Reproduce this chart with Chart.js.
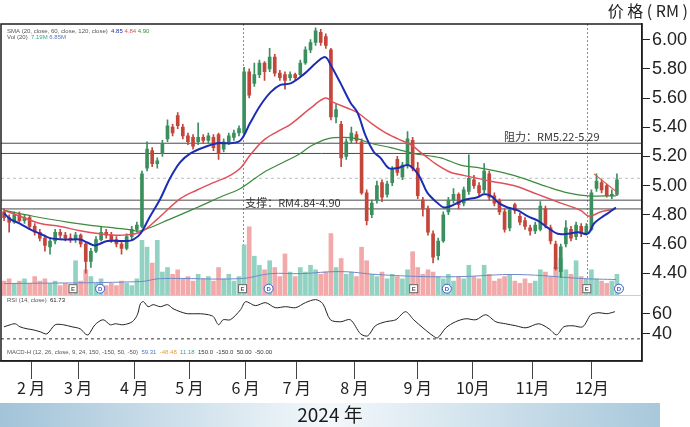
<!DOCTYPE html>
<html>
<head>
<meta charset="utf-8">
<script src="https://cdn.jsdelivr.net/npm/chart.js@4.4.1/dist/chart.umd.min.js"></script>
<style>
  html, body { margin: 0; padding: 0; background: #fff; }
</style>
</head>
<body>
<canvas id="priceChart" width="690" height="427"></canvas>
<script>
// daily-ish candles, Jan - Dec 2024
const opens = [4.82,4.78,4.75,4.80,4.76,4.78,4.72,4.68,4.64,4.58,4.62,4.68,4.66,4.64,4.63,4.66,4.60,4.48,4.55,4.63,
  4.68,4.66,4.63,4.60,4.57,4.65,4.70,4.72,5.12,5.24,5.15,5.22,5.32,5.40,5.48,5.40,5.34,5.33,5.30,5.33,
  5.31,5.33,5.35,5.25,5.30,5.33,5.36,5.36,5.78,5.70,5.76,5.84,5.80,5.88,5.77,5.76,5.74,5.76,5.76,5.84,
  5.93,5.98,6.05,6.02,5.93,5.47,5.42,5.20,5.31,5.35,5.30,4.95,4.80,4.90,5.02,4.94,5.02,5.18,5.06,5.14,
  5.31,5.12,4.90,4.84,4.67,4.52,4.62,4.82,4.90,4.94,4.88,4.96,5.04,5.00,4.97,5.08,4.93,4.90,4.82,4.71,
  4.87,4.79,4.76,4.71,4.69,4.70,4.84,4.71,4.60,4.41,4.60,4.70,4.65,4.72,4.67,4.70,4.98,5.02,5.00,4.93,4.94];
const highs = [4.84,4.80,4.82,4.82,4.80,4.79,4.74,4.70,4.66,4.64,4.70,4.70,4.68,4.67,4.68,4.67,4.61,4.57,4.65,4.72,
  4.70,4.68,4.65,4.62,4.67,4.72,4.75,5.10,5.30,5.26,5.19,5.31,5.45,5.42,5.50,5.42,5.36,5.35,5.43,5.35,
  5.36,5.35,5.36,5.32,5.36,5.38,5.41,5.81,5.80,5.84,5.86,5.85,5.94,5.90,5.79,5.78,5.78,5.77,5.86,5.95,
  6.00,6.08,6.07,6.04,5.94,5.56,5.44,5.32,5.40,5.37,5.32,4.97,4.90,5.03,5.04,5.03,5.13,5.20,5.16,5.37,
  5.33,5.16,4.92,4.86,4.69,4.64,4.82,4.92,4.98,4.95,4.99,5.21,5.07,5.02,5.15,5.10,4.95,4.91,4.84,4.85,
  4.88,4.81,4.78,4.73,4.75,4.89,4.86,4.73,4.62,4.60,4.76,4.72,4.75,4.74,4.74,4.97,5.08,5.04,5.01,4.97,5.08];
const lows = [4.76,4.68,4.74,4.75,4.74,4.70,4.66,4.62,4.55,4.53,4.60,4.64,4.62,4.61,4.61,4.58,4.40,4.44,4.54,4.62,
  4.64,4.61,4.58,4.53,4.56,4.63,4.68,4.71,5.10,5.13,5.12,5.20,5.30,5.34,5.39,5.32,5.28,5.25,5.28,5.29,
  5.29,5.24,5.18,5.23,5.28,5.31,5.34,5.34,5.60,5.68,5.74,5.72,5.78,5.75,5.72,5.66,5.72,5.72,5.75,5.83,
  5.91,5.96,5.96,5.94,5.45,5.43,5.13,5.18,5.29,5.29,4.94,4.73,4.78,4.88,4.89,4.92,5.00,5.07,5.04,5.12,
  5.10,4.91,4.79,4.66,4.47,4.49,4.61,4.80,4.88,4.84,4.86,4.94,4.98,4.93,4.95,4.90,4.86,4.80,4.68,4.69,
  4.81,4.73,4.70,4.66,4.67,4.69,4.71,4.60,4.42,4.37,4.58,4.62,4.63,4.65,4.66,4.69,4.96,4.95,4.92,4.91,4.93];
const closes = [4.78,4.75,4.80,4.76,4.78,4.72,4.68,4.64,4.59,4.62,4.68,4.66,4.64,4.63,4.66,4.60,4.48,4.55,4.63,4.68,
  4.66,4.63,4.60,4.57,4.65,4.70,4.73,5.08,5.25,5.15,5.17,5.29,5.41,5.36,5.41,5.34,5.30,5.27,5.33,5.31,
  5.34,5.26,5.22,5.30,5.34,5.36,5.39,5.78,5.62,5.76,5.84,5.78,5.88,5.77,5.74,5.72,5.76,5.74,5.84,5.93,
  5.98,6.06,5.98,5.96,5.47,5.52,5.19,5.30,5.36,5.31,4.95,4.76,4.88,5.00,4.92,5.01,5.11,5.09,5.14,5.32,
  5.12,4.93,4.84,4.68,4.51,4.62,4.80,4.90,4.94,4.87,4.97,5.05,5.00,4.95,5.10,4.92,4.88,4.82,4.70,4.83,
  4.83,4.75,4.72,4.69,4.73,4.86,4.73,4.62,4.43,4.58,4.71,4.64,4.73,4.67,4.72,4.95,5.03,4.97,4.93,4.94,5.04];
// volume, million shares
const vols = [6,7,5,6,7,5,8,6,7,5,6,4,5,4,15,6,11,8,5,7,
  4,5,4,6,5,4,7,24,21,14,24,10,12,9,11,7,8,6,9,7,
  8,6,12,7,9,6,8,22,30,17,13,11,15,12,8,18,10,8,12,10,
  13,11,9,10,27,12,16,9,10,8,21,15,9,8,10,7,9,8,7,11,
  19,12,9,11,10,8,7,9,6,8,7,13,8,7,13,9,6,7,8,9,
  6,5,7,5,6,11,10,8,12,16,11,9,15,8,7,11,7,6,5,6,9];

// moving averages: [candle index, price]
const sma20 = [[0,4.81],[1.2,4.77],[3.1,4.74],[5.1,4.70],[7.1,4.67],[9,4.64],[12.4,4.63],[14.9,4.63],[16.3,4.61],
  [17.8,4.59],[20.2,4.62],[24.1,4.62],[25.3,4.63],[26.7,4.67],[28.6,4.79],[30.6,4.91],[32.5,5.05],[34.5,5.16],
  [36.5,5.22],[39,5.26],[41.8,5.29],[44.3,5.29],[46.3,5.31],[48.2,5.43],[50.2,5.55],[52.2,5.64],[54.1,5.69],
  [56.1,5.70],[58.6,5.76],[61.4,5.85],[62.9,5.88],[63.9,5.83],[65.9,5.70],[67.8,5.57],[69.2,5.50],[70.8,5.34],
  [72.4,5.23],[73.7,5.19],[75.3,5.12],[77.1,5.12],[79.2,5.14],[81.2,5.07],[82.9,4.95],[84.9,4.88],[86.1,4.85],
  [87.5,4.86],[90,4.90],[92.7,4.92],[93.9,4.94],[95.3,4.93],[96.9,4.88],[98.6,4.85],[100.6,4.83],[102.5,4.79],
  [104.5,4.76],[106.5,4.71],[108.4,4.67],[110.4,4.67],[112.4,4.68],[114.3,4.67],[115.5,4.74],[116.9,4.78],
  [118.2,4.81],[119.8,4.85]];
const sma60 = [[0,4.83],[3.1,4.79],[7.1,4.74],[11,4.72],[14.9,4.69],[18.8,4.67],[22.7,4.66],[26.7,4.68],[30,4.77],
  [34.5,4.91],[37.8,4.97],[41,5.02],[44.3,5.07],[46.3,5.12],[48.2,5.21],[50.8,5.31],[53.5,5.37],[56.1,5.42],
  [60,5.53],[62.9,5.60],[64.5,5.57],[67.3,5.53],[69.2,5.50],[71.8,5.43],[74.3,5.37],[77.1,5.32],[79.6,5.28],
  [82.2,5.21],[84.9,5.14],[87.5,5.09],[90,5.07],[95.3,5.03],[99.8,5.00],[104.5,4.94],[109,4.88],[112.9,4.83],
  [114.5,4.79],[116.9,4.82],[119.8,4.84]];
const sma120 = [[0,4.83],[5.7,4.79],[12.4,4.75],[18.8,4.72],[24.1,4.70],[26.7,4.69],[32.5,4.77],[37.8,4.85],
  [42.9,4.93],[46.3,4.98],[50.8,5.09],[54.7,5.16],[58,5.22],[60,5.27],[63.3,5.32],[66.5,5.33],[69.2,5.32],
  [71.8,5.29],[75.7,5.26],[80.2,5.22],[85.5,5.19],[89.4,5.14],[93.3,5.12],[99.8,5.07],[106.5,4.99],[110.4,4.95],
  [114.3,4.93],[119.8,4.93]];
const volMA = [[0,4.9],[26.7,5.8],[30.6,7.1],[46.3,7.1],[52.2,9.3],[58,9.3],[65.9,10.2],[73.1,8.9],[82.2,8.0],
  [89.4,8.0],[100.6,8.9],[113.5,7.1],[119.8,6.7]];
const rsi14 = [[0,47],[1.2,49],[2.2,50],[3.1,47],[4.5,45],[5.7,44],[7.1,42],[8.4,40],[10,49],[11.6,49],[13.3,47],
  [14.9,45],[15.9,40],[16.5,39],[17.8,49],[19.4,54],[20.8,49],[21.8,50],[23.3,49],[25.1,52],[26.1,59],[26.7,70],
  [27.3,72],[28.2,67],[29.2,69],[30.6,67],[32,69],[33.1,65],[34.5,62],[35.9,60],[38.4,60],[40,59],[41,57],
  [42,49],[42.9,54],[44.3,54],[46.3,64],[47.3,72],[49.2,68],[51.2,71],[53.1,66],[55.1,67],[57.1,66],[59,71],
  [61,74],[62.4,70],[63.9,54],[65.9,52],[67.8,54],[69.8,40],[71.2,38],[72.7,48],[74.7,52],[76.7,54],[78.6,62],
  [80.2,54],[82,46],[84,38],[84.9,36],[86.5,46],[88.4,52],[90.4,55],[92.4,54],[94.3,59],[96.3,52],[98.2,50],
  [100.2,48],[102.2,46],[104.7,50],[106.7,45],[108.2,39],[109.6,47],[111.4,48],[113.3,47],[114.9,59],
  [116.5,61],[118,60],[119.6,62]];

const resistance = [5.22, 5.29];
const support = [4.84, 4.90];
const pennant = [[115.5, 5.08], [120.2, 4.95]];
const lastPrice = 5.05;
const rsiFloor = 35;
const earnIdx = [13.5, 46.7, 80.2, 114.1];
const divIdx = [18.8, 51.8, 86.7, 120.4];
const vLines = [46.7, 114.1];

const priceTicks = [4.4, 4.6, 4.8, 5.0, 5.2, 5.4, 5.6, 5.8, 6.0];
const rsiTicks = [40, 60];
const monthPos = [5.3, 14.5, 25.5, 36.3, 47.3, 57.3, 68.6, 81, 91.8, 103.5, 115.1];
const monthLabels = ['2 月', '3 月', '4 月', '5 月', '6 月', '7 月', '8 月', '9 月', '10月', '11月', '12月'];

const X_MIN = -0.6, X_MAX = 124.9;
const idx = opens.map((_, i) => i);
const upCol = '#3b8f5e', dnCol = '#c4453a';
const candleCol = idx.map(i => closes[i] >= opens[i] ? upCol : dnCol);
const volCol = idx.map(i => closes[i] >= opens[i] ? '#92d2c2' : '#f2a9a9');
const pts = arr => arr.map(([x, y]) => ({ x, y }));
const flat = v => [{ x: X_MIN, y: v }, { x: X_MAX, y: v }];
const NUM_FONT = '"Liberation Sans", Arial, sans-serif';
const CJK_FONT = '"Noto Sans CJK SC", "Liberation Sans", sans-serif';

function levelSet(v, color, dash) {
  return { type: 'line', data: flat(v), borderColor: color, borderWidth: 1, borderDash: dash || [],
    pointRadius: 0, yAxisID: 'y', order: 5 };
}

function drawParts(ctx, x, y, parts) {
  parts.forEach(([t, c]) => {
    ctx.fillStyle = c;
    ctx.fillText(t, x, y);
    x += ctx.measureText(t).width;
  });
}

const overlay = {
  id: 'overlay',
  beforeDatasetsDraw(chart) {
    const { ctx, chartArea: a, scales: { x, y } } = chart;
    ctx.save();
    ctx.strokeStyle = '#cccccc';
    ctx.lineWidth = 1;
    ctx.beginPath();
    ctx.moveTo(a.left, Math.round(y.bottom) + 0.5);
    ctx.lineTo(a.right, Math.round(y.bottom) + 0.5);
    ctx.stroke();
    ctx.strokeStyle = '#8c8c8c';
    ctx.setLineDash([2, 2]);
    vLines.forEach(v => {
      const px = Math.round(x.getPixelForValue(v)) + 0.5;
      ctx.beginPath();
      ctx.moveTo(px, a.top);
      ctx.lineTo(px, y.bottom);
      ctx.stroke();
    });
    ctx.restore();
  },
  afterDraw(chart) {
    const { ctx, chartArea: a, scales: { x, y, vol, macd } } = chart;
    ctx.save();

    // E / D event markers
    const my = vol.getPixelForValue(0) - 6;
    ctx.lineWidth = 1;
    ctx.font = 'bold 6px ' + NUM_FONT;
    ctx.textAlign = 'center';
    ctx.textBaseline = 'middle';
    earnIdx.forEach(v => {
      const px = x.getPixelForValue(v);
      ctx.fillStyle = '#fff';
      ctx.fillRect(px - 4, my - 4, 8, 8);
      ctx.strokeStyle = '#666';
      ctx.strokeRect(px - 4, my - 4, 8, 8);
      ctx.fillStyle = '#555';
      ctx.fillText('E', px, my + 0.5);
    });
    divIdx.forEach(v => {
      const px = x.getPixelForValue(v);
      ctx.beginPath();
      ctx.arc(px, my, 4.5, 0, Math.PI * 2);
      ctx.fillStyle = '#fff';
      ctx.fill();
      ctx.strokeStyle = '#3a5fcd';
      ctx.stroke();
      ctx.fillStyle = '#3a5fcd';
      ctx.fillText('D', px, my + 0.5);
    });

    // level captions
    ctx.font = '11px ' + CJK_FONT;
    ctx.fillStyle = '#333';
    ctx.textBaseline = 'alphabetic';
    ctx.textAlign = 'right';
    ctx.fillText('阻力：RM5.22-5.29', x.getPixelForValue(116.6), y.getPixelForValue(resistance[1]) - 2);
    ctx.textAlign = 'left';
    ctx.fillText('支撑：RM4.84-4.90', x.getPixelForValue(47.2), y.getPixelForValue(support[0]) - 2);

    // indicator headers
    ctx.font = '6px ' + NUM_FONT;
    drawParts(ctx, a.left + 6, a.top + 9, [['SMA (20, close, 60, close, 120, close)  ', '#555'],
      ['4.85 ', '#1c2db5'], ['4.84 ', '#e0505a'], ['4.90', '#3d8a3d']]);
    drawParts(ctx, a.left + 6, a.top + 15, [['Vol (20)  ', '#555'], ['7.19M ', '#3aa58c'], ['6.85M', '#5b74c4']]);
    drawParts(ctx, a.left + 6, y.bottom + 7, [['RSI (14, close)  ', '#555'], ['61.73', '#222']]);
    drawParts(ctx, a.left + 6, macd.top + 11, [['MACD-H (12, 26, close, 9, 24, 150, -150, 50, -50)  ', '#555'],
      ['59.31  ', '#4a78c8'], ['-48.48  ', '#e0a040'], ['11.18  ', '#3aa58c'], ['150.0  -150.0  50.00  -50.00', '#333']]);

    // chart frame
    ctx.strokeStyle = '#1e1e1e';
    ctx.lineWidth = 1.5;
    ctx.strokeRect(a.left, a.top, a.right - a.left, a.bottom - a.top);

    // unit title
    ctx.font = '16px ' + CJK_FONT;
    ctx.fillStyle = '#222';
    ctx.textAlign = 'right';
    ctx.textBaseline = 'middle';
    ctx.fillText('价 格 ( RM )', 688, 11);

    // year band
    const g = ctx.createLinearGradient(0, 0, 660, 0);
    g.addColorStop(0, '#a2c3d8');
    g.addColorStop(0.5, '#f3f8fb');
    g.addColorStop(1, '#a8c8db');
    ctx.fillStyle = g;
    ctx.fillRect(0, 403, 660, 24);
    ctx.font = '19px ' + CJK_FONT;
    ctx.fillStyle = '#1a1a1a';
    ctx.textAlign = 'center';
    ctx.fillText('2024 年', 330, 415);
    ctx.restore();
  }
};

new Chart(document.getElementById('priceChart'), {
  type: 'bar',
  data: {
    datasets: [
      { type: 'line', data: pts(sma20), borderColor: '#1c2db5', borderWidth: 2, pointRadius: 0, tension: 0.35, yAxisID: 'y', order: 1 },
      { type: 'line', data: pts(sma60), borderColor: '#e0505a', borderWidth: 1.5, pointRadius: 0, tension: 0.35, yAxisID: 'y', order: 1 },
      { type: 'line', data: pts(sma120), borderColor: '#3d8a3d', borderWidth: 1.2, pointRadius: 0, tension: 0.35, yAxisID: 'y', order: 1 },
      { type: 'line', data: pts(pennant), borderColor: '#d9534f', borderWidth: 1.2, pointRadius: 0, yAxisID: 'y', order: 1 },
      { data: idx.map(i => ({ x: i, y: [lows[i], highs[i]] })), backgroundColor: candleCol, barThickness: 1,
        grouped: false, yAxisID: 'y', order: 3 },
      { data: idx.map(i => ({ x: i, y: [opens[i], closes[i]] })), backgroundColor: candleCol, barThickness: 3,
        minBarLength: 1, grouped: false, yAxisID: 'y', order: 2 },
      { data: idx.map(i => ({ x: i, y: vols[i] })), backgroundColor: volCol, barThickness: 4,
        grouped: false, yAxisID: 'vol', order: 10 },
      { type: 'line', data: pts(volMA), borderColor: '#7088c8', borderWidth: 1, pointRadius: 0, tension: 0.4, yAxisID: 'vol', order: 9 },
      levelSet(resistance[0], '#4a4a4a'),
      levelSet(resistance[1], '#4a4a4a'),
      levelSet(support[0], '#4a4a4a'),
      levelSet(support[1], '#4a4a4a'),
      levelSet(lastPrice, '#bdbdbd', [3, 3]),
      { type: 'line', data: pts(rsi14), borderColor: '#222', borderWidth: 1, pointRadius: 0, tension: 0.3, yAxisID: 'rsi', order: 1 },
      { type: 'line', data: flat(rsiFloor), borderColor: '#333', borderWidth: 1, borderDash: [3, 3], pointRadius: 0, yAxisID: 'rsi', order: 1 }
    ]
  },
  options: {
    responsive: false,
    devicePixelRatio: 1,
    animation: false,
    layout: { padding: { top: 24, left: 1, right: 1, bottom: 30 } },
    plugins: { legend: { display: false }, tooltip: { enabled: false } },
    scales: {
      x: {
        type: 'linear', min: X_MIN, max: X_MAX, offset: false,
        afterBuildTicks: s => { s.ticks = monthPos.map(v => ({ value: v })); },
        ticks: { autoSkip: false, maxRotation: 0, padding: 1, color: '#222',
          font: { family: CJK_FONT, size: 16, lineHeight: 1 }, callback: (v, i) => monthLabels[i] },
        grid: { drawOnChartArea: false, offset: false, tickLength: 18, color: '#444' },
        border: { display: true, color: '#1e1e1e', width: 1.5 }
      },
      y: {
        position: 'right', stack: 'right', stackWeight: 269, min: 4.253, max: 6.107,
        afterBuildTicks: s => { s.ticks = priceTicks.map(v => ({ value: v })); },
        ticks: { autoSkip: false, padding: 2, color: '#222', font: { family: NUM_FONT, size: 18 }, callback: v => v.toFixed(2) },
        grid: { drawOnChartArea: false, tickLength: 8, color: '#222' },
        border: { display: true, color: '#1e1e1e', width: 1.5 }
      },
      rsi: {
        position: 'right', stack: 'right', stackWeight: 48, min: 31, max: 79,
        afterBuildTicks: s => { s.ticks = rsiTicks.map(v => ({ value: v })); },
        ticks: { autoSkip: false, padding: 2, color: '#222', font: { family: NUM_FONT, size: 18 } },
        grid: { drawOnChartArea: false, tickLength: 8, color: '#222' },
        border: { display: true, color: '#1e1e1e', width: 1.5 }
      },
      macd: {
        position: 'right', stack: 'right', stackWeight: 18, min: 0, max: 1,
        ticks: { display: false },
        grid: { display: false },
        border: { display: true, color: '#1e1e1e', width: 1.5 }
      },
      vol: { position: 'left', display: false, min: -29.3, max: 119.6 }
    }
  },
  plugins: [overlay]
});
</script>
</body>
</html>
